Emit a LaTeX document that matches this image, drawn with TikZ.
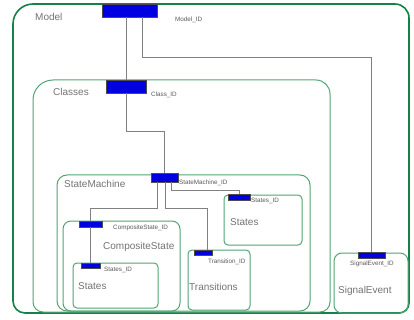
\documentclass[tikz,border=0pt]{standalone}
\usepackage{fontspec}
\setmainfont{Liberation Sans}
\definecolor{modelgreen}{RGB}{20,130,70}
\definecolor{boxgreen}{RGB}{80,165,115}
\definecolor{barblue}{RGB}{0,0,225}
\begin{document}
\begin{tikzpicture}[x=1pt,y=-1pt,
    outer/.style={draw=modelgreen,line width=1.6pt},
    inner/.style={draw=boxgreen,line width=1pt},
    bar/.style={draw=black!70,fill=barblue,line width=0.3pt,inner sep=0pt},
    wire/.style={draw=black!50,line width=0.6pt},
    title/.style={anchor=west,inner sep=0pt,text=black!55,font=\fontsize{10}{12}\selectfont},
    idtext/.style={anchor=west,inner sep=0pt,text=black!65,font=\fontsize{6.3}{7}\selectfont}]

            \useasboundingbox (0,0) rectangle (414,320);

            % containers
            \draw[outer] (13,313) [rounded corners=20pt] -- (13,4) [rounded corners=14pt] -- (409,4) [rounded corners=10pt] -- (409,313) [rounded corners=12pt] -- cycle;
            \draw[inner] (33,312) [rounded corners=20pt] -- (33,80) [rounded corners=14pt] -- (330,80) [rounded corners=10pt] -- (330,312) -- cycle;
            \draw[inner,rounded corners=10pt] (57,175) rectangle (310,311);
            \draw[inner,rounded corners=8pt] (63,221) rectangle (180,311);
            \draw[inner,rounded corners=4pt] (73,263) rectangle (158,308);
            \draw[inner,rounded corners=4pt] (224,195) rectangle (302,245);
            \draw[inner,rounded corners=4pt] (188,250) rectangle (250,310);
            \draw[inner,rounded corners=8pt] (334,253) rectangle (408,313);

            % key bars
            \node[bar,minimum width=55pt,minimum height=13pt] (mbar) at (129.5,10.5) {};
            \node[bar,minimum width=40pt,minimum height=13pt] (cbar) at (126,86.5) {};
            \node[bar,minimum width=27pt,minimum height=9pt] (smbar) at (164.5,177.5) {};
            \node[bar,minimum width=23pt,minimum height=6pt] (csbar) at (90.5,224) {};
            \node[bar,minimum width=19pt,minimum height=5pt] (sibar) at (90.5,265.5) {};
            \node[bar,minimum width=22pt,minimum height=6pt] (subar) at (239,197.5) {};
            \node[bar,minimum width=18pt,minimum height=5pt] (tbar) at (203,252.5) {};
            \node[bar,minimum width=27pt,minimum height=6pt] (sigbar) at (371.5,255) {};

            % names
            \node[title] (model) at (35,17) {Model};
            \node[title] (classes) at (53,92) {Classes};
            \node[title] (sm) at (64,184) {StateMachine};
            \node[title] (cs) at (103,247) {CompositeState};
            \node[title] (si) at (78,286) {States};
            \node[title] (su) at (230,222) {States};
            \node[title] (tr) at (189,287) {Transitions};
            \node[title] (sig) at (338,291) {SignalEvent};

            \node[idtext] (mid) at (175,20) {Model\_ID};
            \node[idtext] (cid) at (151,95) {Class\_ID};
            \node[idtext] (smid) at (179,183) {StateMachine\_ID};
            \node[idtext] (csid) at (113,228) {CompositeState\_ID};
            \node[idtext] (siid) at (104,270) {States\_ID};
            \node[idtext] (suid) at (251,201) {States\_ID};
            \node[idtext] (tid) at (208,262) {Transition\_ID};
            \node[idtext] (sigid) at (350,264) {SignalEvent\_ID};

            % links
            \draw[wire] (cbar.north |- mbar.south) -- (cbar.north);
            \draw[wire] ([xshift=12.5pt]mbar.south) -- ++(0,40) -| (sigbar.north);
            \draw[wire] (cbar.south) -- ++(0,38) -| (smbar.north);
            \draw[wire] ([xshift=-7.5pt]smbar.south) -- ++(0,26) -| (csbar.north);
            \draw[wire] ([xshift=0.5pt]smbar.south) -- ++(0,26) -| ([xshift=4pt]tbar.north);
            \draw[wire] ([xshift=6.5pt]smbar.south) -- ++(0,8) -| (subar.north);
            \draw[wire] (csbar.south) -- (sibar.north);

        \end{tikzpicture}
\end{document}
